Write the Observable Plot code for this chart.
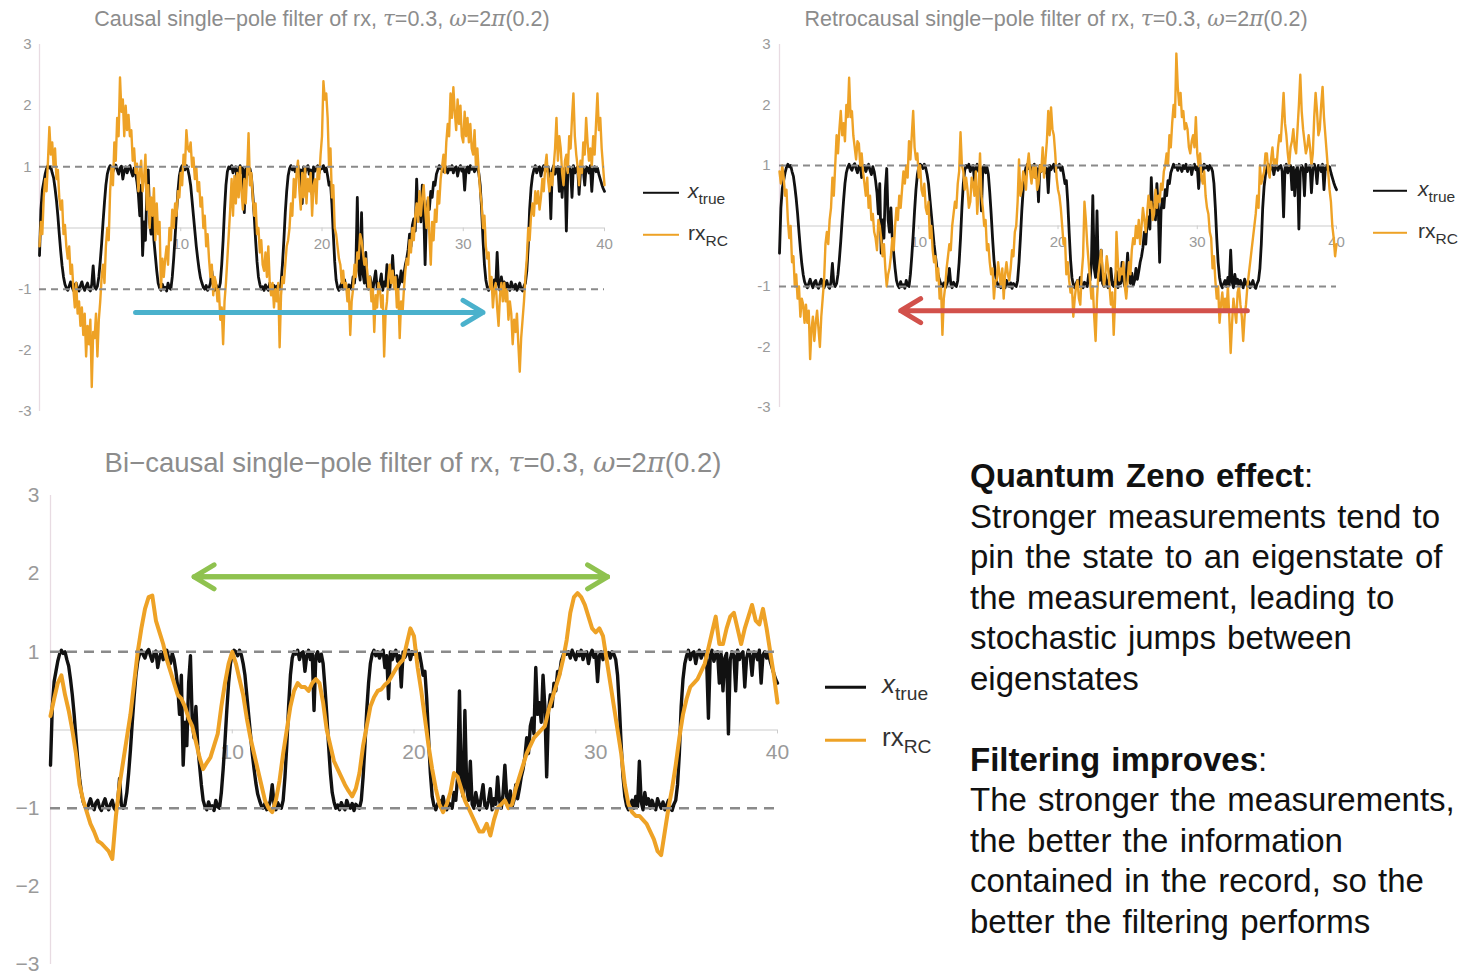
<!DOCTYPE html>
<html>
<head>
<meta charset="utf-8">
<script src="https://cdn.jsdelivr.net/npm/d3@7"></script>
<script src="https://cdn.jsdelivr.net/npm/@observablehq/plot@0.6"></script>
<style>
  html, body { margin: 0; padding: 0; background: #fff; overflow: hidden; }
  #stage { position: relative; width: 1464px; height: 974px; font-family: "Liberation Sans", Arial, sans-serif; }
  .plot { position: absolute; }
  .title { position: absolute; color: #8c8c8c; white-space: nowrap; transform: translateX(-50%); line-height: 1; }
  .title i { font-family: "DejaVu Serif", serif; font-style: italic; }
  .leg { position: absolute; display: flex; align-items: center; white-space: nowrap; color: #333; transform: translateY(-50%); line-height: 1; }
  .leg .sw { display: inline-block; }
  .leg sub { font-size: 0.74em; vertical-align: -0.38em; }
  .note { position: absolute; left: 970px; font-size: 33px; line-height: 40px; height: 40px; color: #111; white-space: pre; word-spacing: 2px; }
  .note .b { font-weight: bold; }
</style>
</head>
<body>
<div id="stage"></div>
<script>
// Sampled trajectories, t = 0 … 40
const dtTrue = 0.1;       // sample spacing of x_true and of the single-sided filters
const dtBi = 0.2;         // sample spacing of the bi-causal filter output

// true telegraph-like state x_true (shared by all three panels)
const xTrue = [
  -0.45, 0.3, 0.62, 0.75, 0.88, 0.97, 1.02, 0.98, 1.0, 0.9,
  0.82, 0.65, 0.45, 0.2, -0.1, -0.38, -0.62, -0.8, -0.92, -0.98,
  -1.02, -0.95, -0.88, -0.96, -1.02, -0.93, -0.9, -0.99, -1.03, -0.94,
  -0.88, -0.97, -1.02, -0.95, -0.9, -1.0, -1.03, -0.92, -0.62, -0.96,
  -1.0, -0.95, -0.8, -0.55, -0.25, 0.1, 0.42, 0.7, 0.88, 0.97,
  1.02, 0.96, 0.92, 1.0, 1.03, 0.95, 0.88, 0.98, 1.01, 0.8,
  0.93, 1.0, 0.9, 0.97, 1.02, 0.92, 0.85, 0.98, 0.9, 0.75,
  0.55, 0.2, 0.7, -0.45, 0.1, -0.2, 0.6, 0.95, 0.1, -0.1,
  0.3, -0.2, -0.45, -0.7, -0.9, -0.98, -1.02, -0.92, -1.0, -0.97,
  -1.03, -0.9, -0.98, -1.0, -0.8, -0.5, -0.15, 0.25, 0.6, 0.85,
  0.97, 1.02, 1.0, 0.95, 1.02, 0.96, 0.85, 0.7, 0.45, 0.2,
  -0.05, -0.3, -0.5, -0.68, -0.82, -0.9, -0.97, -1.0, -0.94, -1.02,
  -0.98, -0.9, -0.7, -0.95, -1.02, -0.93, -0.98, -1.0, -0.9, -0.6,
  -0.2, 0.3, 0.7, 0.92, 1.0, 0.97, 1.02, 0.9, 0.98, 1.0,
  0.75, 0.95, 1.02, 0.9, 0.98, 0.25, 0.95, 1.0, 0.88, 0.97,
  0.85, 0.55, 0.2, -0.2, -0.55, -0.8, -0.92, -1.0, -0.96, -1.02,
  -0.93, -0.98, -1.02, -0.9, -0.97, -1.0, -0.94, -1.03, -0.95, -0.98,
  -1.0, -0.9, -0.6, -0.2, 0.25, 0.6, 0.85, 0.97, 1.02, 0.95,
  1.0, 0.92, 0.98, 1.02, 0.8, 0.95, 0.4, 1.0, 0.9, 0.97,
  1.02, 0.88, 0.95, 0.55, 1.0, 0.93, 0.98, 1.02, 0.9, 1.0,
  0.97, 1.02, 0.92, 0.98, 0.85, 0.7, 0.75, 0.4, -0.1, -0.55,
  -0.85, -0.97, -1.02, -0.95, -0.9, -1.0, -0.85, -0.98, -1.02, -0.93,
  -0.95, -1.0, -0.8, -0.9, -0.6, 0.5, -0.7, -0.85, 0.25, -0.75,
  -0.9, -0.4, -0.95, -1.0, -0.8, -0.92, -1.02, -0.85, -0.7, -0.97,
  -1.0, -0.9, -0.75, -1.02, -0.88, -0.95, -0.6, -0.9, -1.0, -0.82,
  -0.45, -0.85, -0.95, -0.78, -0.98, -0.9, -0.7, -0.88, -0.75, -0.6,
  -0.5, -0.35, -0.1, -0.3, 0.05, 0.15, -0.05, 0.8, 0.2, 0.35,
  0.1, 0.7, 0.3, -0.6, 0.25, 0.45, 0.3, 0.6, 0.5, 0.75,
  0.7, 0.88, 0.95, 1.02, 0.97, 1.0, 0.92, 1.02, 0.96, 0.9,
  1.0, 0.95, 1.02, 0.9, 0.98, 1.0, 0.85, 0.97, 1.02, 0.93,
  0.98, 0.62, 0.95, 1.0, 0.9, 1.02, 0.96, 0.99, 0.92, 1.0,
  0.97, 0.9, 0.7, 0.3, -0.2, -0.6, -0.85, -0.97, -1.02, -0.95,
  -0.9, -1.0, -0.85, -0.98, -0.4, -0.92, -1.02, -0.8, -0.95, -0.88,
  -1.0, -0.9, -0.97, -1.02, -0.88, -0.95, -1.0, -0.92, -1.02, -0.96,
  -0.9, -1.0, -1.03, -0.95, -0.9, -0.7, -0.3, 0.3, 0.65, 0.85,
  0.95, 1.02, 0.9, 0.98, 1.0, 0.85, 0.97, 1.02, 0.92, 0.98,
  1.0, 0.9, 0.15, 0.95, 1.02, 0.88, 0.96, 1.0, 0.6, 0.97,
  0.5, 0.92, 0.98, -0.05, 0.9, 1.0, 0.95, 0.5, 1.02, 0.9,
  0.97, 1.0, 0.55, 0.92, 1.02, 0.95, 0.7, 1.0, 0.98, 0.9,
  1.02, 0.6, 0.96, 1.0, 0.92, 0.98, 0.88, 0.8, 0.72, 0.65,
  0.6
];

// causal single-pole filter of the record
const rxCausal = [
  -0.3, 0.1, -0.1, 0.5, 0.8, 0.6, 1.1, 1.65, 1.2, 1.4,
  1.0, 1.3, 0.8, 0.95, 0.5, 0.3, 0.45, -0.1, 0.05, -0.3,
  -0.5, -0.3, -0.75, -0.6, -1.0, -1.3, -0.9, -1.4, -1.2, -1.6,
  -1.3, -1.75, -1.4, -2.1, -1.6, -1.9, -1.5, -2.6, -1.7, -1.8,
  -1.4, -2.1, -1.5, -1.2, -0.8, -0.6, -0.9, -0.3, 0.0, -0.2,
  0.6, 1.0, 0.7, 1.4, 1.1, 1.8, 1.5, 2.46, 1.9, 2.1,
  1.5, 2.0, 1.6, 1.85, 1.5, 1.6, 1.1, 1.3, 0.9, 1.05,
  0.6, 0.9, 1.1, 0.6, 0.8, 1.2, 0.3, 0.7, 0.0, 0.5,
  0.2, 0.65, -0.2, 0.4, -0.1, 0.1, -1.0, -0.5, -0.8, -0.5,
  -0.3, -0.6, 0.0, -0.2, 0.3, 0.0, 0.4, 0.2, 0.6, 0.5,
  0.9, 0.7, 1.2, 1.0, 1.6, 1.3, 1.25, 1.4, 1.0, 1.15,
  0.8, 1.0, 0.6, 0.75, 0.35, 0.5, 0.0, 0.2, -0.3, -0.1,
  -0.5, -0.8, -0.6, -1.1, -0.8, -0.9, -1.2, -1.0, -1.5, -1.3,
  -1.9, -1.2, -0.9, -0.5, -0.1, 0.3, 0.8, 0.2, 0.85, 0.4,
  0.9, 0.5, 1.0, 0.6, 0.3, 0.8, 0.4, 0.9, 1.55, 0.7,
  0.9, 0.5, 0.2, 0.4, -0.1, 0.0, -0.4, -0.2, -0.6, -0.7,
  -0.4, -0.8, -0.3, -0.9, -1.1, -0.9, -1.3, -1.0, -1.2, -0.9,
  -1.95, -1.1, -0.8, -0.9, -0.6, -0.3, -0.2, 0.0, 0.4, 0.2,
  0.8, 0.5, 0.9, 1.1, 0.6, 0.3, 0.9, 0.5, 1.0, 0.4,
  0.8, 0.6, 0.9, 0.2, 0.7, 0.8, 0.4, 1.0, 0.8, 1.2,
  1.5, 2.4, 2.1, 2.2, 1.8, 1.0, 1.3, 0.5, 0.7, 0.0,
  -0.1, -0.3, -0.5, -0.6, -0.9, -0.7, -1.0, -0.9, -1.2, -1.0,
  -1.75, -1.2, -1.0, -0.6, -0.8, -0.4, -0.5, -0.1, -0.2, -0.4,
  -0.6, -0.5, -0.7, -1.0, -0.8, -1.2, -1.0, -1.7, -1.1, -1.3,
  -0.9, -1.0, -1.3, -1.1, -2.1, -1.4, -1.2, -0.8, -0.6, -0.9,
  -0.7, -1.0, -0.8, -1.3, -1.0, -1.8, -1.2, -1.4, -1.0, -0.7,
  -0.5, -0.6, -0.2, -0.4, 0.0, -0.2, 0.2, 0.4, 0.1, 0.6,
  0.2, 0.5, 0.7, 0.3, 0.0, 0.5, -0.1, -0.6, 0.1, -0.2,
  0.3, 0.1, 0.6, 0.4, 0.8, 1.0, 1.2, 0.9, 1.4, 1.7,
  1.5, 2.2, 1.8, 2.3, 1.9, 1.6, 2.1, 1.7, 2.0, 1.5,
  1.4, 1.9, 1.5, 1.8, 1.4, 1.7, 1.3, 1.2, 1.6, 1.0,
  1.3, 0.9, 0.6, 0.4, 0.0, 0.2, -0.3, -0.5, -0.4, -1.0,
  -0.8, -1.3, -1.0, -0.9, -1.3, -1.6, -1.1, -0.9, -1.2, -0.9,
  -1.2, -1.0, -1.5, -1.2, -1.4, -1.9, -1.5, -1.7, -1.4, -1.9,
  -2.35, -1.8, -1.5, -1.2, -0.8, -0.5, 0.0, -0.2, 0.2, 0.4,
  0.2, 0.6, 0.4, 0.6, 0.3, 0.5, 0.8, 0.6, 1.0, 1.2,
  0.8, 0.6, 0.9, 0.7, 1.0, 1.3, 1.8, 1.1, 1.5, 1.3,
  0.9, 0.7, 1.1, 1.2, 0.9, 1.5, 1.3, 1.8, 2.2, 1.5,
  1.2, 1.0, 0.7, 1.1, 0.9, 1.4, 1.2, 1.8, 1.4, 1.1,
  1.3, 1.0, 1.5, 1.2, 1.7, 2.2, 1.6, 1.8, 1.3, 1.0,
  0.7
];

// retrocausal single-pole filter of the record
const rxRetro = [
  0.9, 0.7, 1.0, 0.8, 0.5, 0.6, 0.1, -0.2, 0.0, -0.6,
  -0.5, -1.0, -0.8, -1.2, -1.0, -1.5, -1.2, -1.3, -1.6, -1.3,
  -1.6, -1.4, -2.2, -1.7, -1.5, -1.9, -1.6, -1.4, -1.7, -2.0,
  -1.5, -1.2, -0.9, -0.3, -0.1, -0.3, 0.1, 0.3, 0.8, 0.5,
  1.0, 1.5, 1.2, 1.6, 1.9, 1.5, 1.7, 1.4, 2.0, 1.8,
  2.45, 1.8, 1.9, 1.5, 1.3, 1.1, 1.4, 1.36, 1.0, 1.2,
  0.9, 0.7, 0.5, 0.8, 0.3, 0.5, 0.1, 0.2, -0.1, -0.2,
  -0.4, 0.1, 0.0, -0.2, -0.5, -0.3, -0.7, -1.0, -0.8, -0.7,
  -0.5, -0.2, -0.4, 0.0, 0.3, 0.1, 0.5, 0.3, 0.6, 0.9,
  0.7, 1.0, 0.8, 1.4, 1.1, 1.5, 1.9, 1.3, 1.1, 1.2,
  0.8, 1.0, 0.6, 0.5, 0.7, 0.3, 0.2, 0.4, -0.2, 0.0,
  -0.4, -0.6, -0.5, -0.9, -0.7, -1.2, -1.0, -1.8, -1.2, -1.0,
  -0.7, -0.5, -0.3, -0.4, 0.0, 0.2, 0.4, 0.3, 0.7, 0.9,
  1.55, 1.0, 0.9, 0.6, 0.8, 0.6, 0.3, 0.4, 0.8, 0.7,
  0.5, 0.9, 0.2, 0.6, 1.2, 0.5, 0.3, 0.0, 0.1, -0.4,
  -0.3, -0.6, -0.8, -0.7, -1.2, -0.9, -0.9, -0.6, -0.8, -1.0,
  -0.7, -1.2, -0.8, -0.6, -0.8, -0.9, -0.7, -0.4, -0.5, -0.1,
  0.0, 0.4, 1.1, 0.5, 0.6, 0.9, 0.8, 0.6, 1.0, 1.2,
  0.9, 0.7, 1.0, 0.8, 1.0, 0.6, 0.7, 1.0, 0.9, 1.3,
  0.8, 1.1, 1.4, 1.9, 1.5, 1.96, 1.6, 1.5, 1.2, 0.8,
  0.6, 0.5, 0.3, 0.0, -0.3, -0.2, -0.8, -0.6, -0.9, -1.1,
  -1.0, -1.5, -1.2, -1.0, -0.9, -1.2, -1.3, -0.8, -0.5, 0.4,
  0.1, -0.3, -0.6, -0.9, -1.2, -1.0, -1.5, -1.9, -1.2, -0.8,
  -0.6, -0.4, -0.7, -1.0, -0.8, -0.5, -0.7, -1.0, -1.3, -1.1,
  -1.8, -1.2, -0.1, -0.6, -0.9, -0.7, -0.8, -0.6, -1.0, -1.2,
  -0.9, -0.6, -0.8, -0.4, -0.2, -0.3, 0.0, -0.2, 0.1, -0.3,
  0.0, 0.3, 0.1, -0.1, 0.2, 0.5, 0.3, 0.4, 0.1, 0.2,
  0.6, 0.3, 0.5, 0.4, 0.7, 0.6, 0.9, 1.0, 1.2, 1.0,
  1.5, 1.3, 1.7, 2.0, 1.8, 2.85, 2.3, 2.0, 2.2, 1.8,
  1.9, 1.6, 1.7, 1.6, 1.3, 1.2, 1.4, 1.5, 1.3, 1.8,
  1.2, 1.0, 1.2, 0.8, 0.7, 0.9, 0.5, 0.3, 0.2, -0.1,
  -0.2, -0.7, -0.5, -0.9, -1.2, -1.0, -1.6, -1.3, -1.1, -1.4,
  -1.2, -1.4, -1.0, -1.5, -2.1, -1.6, -1.2, -1.4, -1.6, -1.1,
  -1.0, -1.3, -1.5, -1.9, -1.5, -1.3, -1.0, -0.8, -0.6, -0.4,
  -0.2, 0.0, 0.2, 0.5, 0.3, 1.0, 0.7, 0.8, 0.9, 1.2,
  1.2, 0.9, 0.8, 1.1, 1.3, 1.0, 1.1, 1.0, 1.3, 1.5,
  1.4, 1.8, 2.2, 1.7, 1.5, 1.2, 1.0, 1.3, 1.4, 1.6,
  1.3, 1.2, 1.6, 2.0, 2.5, 1.9, 1.6, 1.4, 1.2, 1.3,
  1.5, 1.3, 1.0, 1.2, 1.8, 2.2, 1.9, 1.5, 1.6, 2.0,
  2.3, 1.8, 1.5, 1.2, 0.9, 0.6, 0.4, 0.0, -0.2, -0.5,
  -0.3
];

// bi-causal (forward-backward) single-pole filter of the record
const rxBicausal = [
  0.18, 0.4, 0.6, 0.7, 0.45, 0.25, 0.0, -0.3, -0.7, -0.9,
  -1.05, -1.2, -1.3, -1.42, -1.45, -1.5, -1.55, -1.65, -1.1, -0.7,
  -0.4, -0.1, 0.2, 0.6, 1.0, 1.3, 1.55, 1.7, 1.72, 1.4,
  1.25, 1.1, 0.9, 0.75, 0.6, 0.45, 0.4, 0.3, 0.15, 0.05,
  -0.15, -0.35, -0.5, -0.42, -0.35, -0.2, -0.05, 0.3, 0.6, 0.85,
  1.0, 0.85, 0.65, 0.45, 0.15, -0.1, -0.3, -0.5, -0.7, -0.9,
  -1.0, -1.05, -0.9, -0.65, -0.3, 0.0, 0.3, 0.5, 0.6, 0.55,
  0.55, 0.5, 0.6, 0.65, 0.6, 0.35, 0.0, -0.2, -0.4, -0.5,
  -0.6, -0.7, -0.78, -0.85, -0.75, -0.55, -0.2, 0.05, 0.3, 0.42,
  0.5, 0.52, 0.58, 0.62, 0.7, 0.78, 0.85, 0.9, 1.1, 1.3,
  1.2, 0.8, 0.5, 0.15, -0.2, -0.5, -0.75, -0.95, -1.05, -0.95,
  -0.8, -0.55, -0.6, -0.75, -0.9, -1.0, -1.1, -1.2, -1.3, -1.3,
  -1.2, -1.35, -1.15, -1.0, -0.95, -0.9, -1.0, -0.95, -0.75, -0.6,
  -0.45, -0.3, -0.2, -0.1, -0.05, 0.0, 0.05, 0.25, 0.4, 0.55,
  0.7, 0.9, 1.15, 1.5, 1.7, 1.75, 1.7, 1.6, 1.45, 1.3,
  1.25, 1.3, 1.2, 0.9, 0.6, 0.3, 0.0, -0.3, -0.7, -0.95,
  -1.05, -1.1, -1.1, -1.15, -1.2, -1.3, -1.4, -1.55, -1.6, -1.3,
  -1.0, -0.75, -0.45, -0.1, 0.2, 0.4, 0.55, 0.6, 0.65, 0.75,
  0.85, 1.05, 1.25, 1.45, 1.1, 1.1, 1.3, 1.45, 1.5, 1.3,
  1.1, 1.3, 1.45, 1.6, 1.4, 1.35, 1.55, 1.3, 1.0, 0.7,
  0.35
];

// axis ticks and reference levels (eigenvalues ±1)
const xTicks = [10, 20, 30, 40];
const yTicks = [-3, -2, -1, 1, 2, 3];
const eigenLevels = [-1, 1];

// annotation arrows, in data units
const causalArrow = [{x1: 6.8, x2: 31.4, y: -1.38}];
const retroArrow = [{x1: 33.6, x2: 8.7, y: -1.4}];
const biArrow = [{x1: 7.9, x2: 30.65, y: 1.96}, {x1: 30.65, x2: 7.9, y: 1.96}];

const FONT = '"Liberation Sans", Arial, sans-serif';
const BLACK = "#111111";
const ORANGE = "#eea226";

const stage = document.getElementById("stage");

function panel(cfg) {
  const minus = cfg.minus;
  const fmt = d => (d < 0 ? minus + Math.abs(d) : String(d));
  const svg = Plot.plot({
    width: cfg.width,
    height: cfg.height,
    marginLeft: cfg.ml, marginRight: cfg.mr, marginTop: cfg.mt, marginBottom: cfg.mb,
    x: {domain: [0, 40], axis: null},
    y: {domain: [-3, 3], axis: null},
    style: {fontFamily: FONT, background: "transparent", overflow: "visible"},
    marks: [
      Plot.ruleX([0], {y1: -3, y2: 3, stroke: "#e8dbe2", strokeWidth: 1.3}),
      Plot.ruleY([0], {stroke: "#dddddd", strokeWidth: 1.3}),
      Plot.axisY({ticks: yTicks, label: null, tickSize: 0, tickPadding: cfg.pad, fill: "#9a9a9a", fontSize: cfg.fs, tickFormat: fmt}),
      Plot.ruleX(xTicks, {x: d => d, y1: 0, y2: -cfg.tickLen, stroke: "#cccccc"}),
      Plot.text(xTicks, {x: d => d, y: 0, dy: cfg.labelDy, text: d => String(d), fill: "#9a9a9a", fontSize: cfg.fs}),
      Plot.line(xTrue, {x: (d, i) => i * dtTrue, y: d => d, stroke: BLACK, strokeWidth: cfg.blackW, strokeLinejoin: "round"}),
      Plot.line(cfg.rx, {x: (d, i) => i * cfg.rxStep, y: d => d, stroke: ORANGE, strokeWidth: cfg.orangeW, strokeLinejoin: "round"}),
      Plot.ruleY(eigenLevels, {stroke: "#8a8a8a", strokeWidth: cfg.dashW, strokeDasharray: cfg.dash}),
      Plot.arrow(cfg.arrow, {x1: "x1", x2: "x2", y1: "y", y2: "y", stroke: cfg.arrowColor, strokeWidth: cfg.arrowW, headLength: cfg.headLen, headAngle: 62, strokeLinecap: "round"})
    ]
  });
  svg.classList.add("plot");
  svg.style.left = cfg.left + "px";
  svg.style.top = cfg.top + "px";
  stage.appendChild(svg);
}

panel({left: 0, top: 30, width: 625, height: 400, ml: 39, mr: 21, mt: 14, mb: 19,
  rx: rxCausal, rxStep: dtTrue, fs: 15, pad: 8, labelDy: 16, tickLen: 0.06, minus: "-",
  blackW: 2.8, orangeW: 2.4, dashW: 2, dash: "7,5",
  arrow: causalArrow, arrowColor: "#4ab1cc", arrowW: 5, headLen: 7});

panel({left: 730, top: 30, width: 630, height: 395, ml: 49, mr: 24, mt: 14, mb: 18,
  rx: rxRetro, rxStep: dtTrue, fs: 15, pad: 9, labelDy: 16, tickLen: 0.06, minus: "-",
  blackW: 2.8, orangeW: 2.4, dashW: 2, dash: "7,5",
  arrow: retroArrow, arrowColor: "#d2514b", arrowW: 5, headLen: 7});

panel({left: 0, top: 480, width: 800, height: 494, ml: 50, mr: 23, mt: 15, mb: 10,
  rx: rxBicausal, rxStep: dtBi, fs: 21, pad: 11, labelDy: 22, tickLen: 0.05, minus: "\u2212",
  blackW: 3.4, orangeW: 4, dashW: 2.5, dash: "10,7",
  arrow: biArrow, arrowColor: "#8fc24f", arrowW: 5, headLen: 7});

// titles
function title(html, cx, cy, size) {
  const d = document.createElement("div");
  d.className = "title";
  d.style.left = cx + "px";
  d.style.top = (cy - size / 2) + "px";
  d.style.fontSize = size + "px";
  d.innerHTML = html;
  stage.appendChild(d);
}
const params = ", <i>τ</i>=0.3, <i>ω</i>=2<i>π</i>(0.2)";
title("Causal single\u2212pole filter of rx" + params, 322, 19, 21.5);
title("Retrocausal single\u2212pole filter of rx" + params, 1056, 19, 21.5);
title("Bi\u2212causal single\u2212pole filter of rx" + params, 413, 463, 27.5);

// legends
function legend(x, yTop, yBot, lineLen, textX, size, lw) {
  const rows = [
    {y: yTop, color: BLACK, label: "<i>x</i><sub>true</sub>"},
    {y: yBot, color: ORANGE, label: "rx<sub>RC</sub>"}
  ];
  for (const r of rows) {
    const row = document.createElement("div");
    row.className = "leg";
    row.style.left = x + "px";
    row.style.top = r.y + "px";
    row.style.fontSize = size + "px";
    row.innerHTML = `<span class="sw" style="width:${lineLen}px;height:${lw}px;background:${r.color}"></span>` +
      `<span style="margin-left:${textX - x - lineLen}px">${r.label}</span>`;
    stage.appendChild(row);
  }
}
legend(643, 193, 235, 36, 688, 21, 2.5);
legend(1373, 191, 233, 34, 1418, 21, 2.5);
legend(825, 687, 740, 41, 882, 26, 3);

// explanatory text, one line per row
const noteLines = [
  ["Quantum Zeno effect", ":"],
  ["", "Stronger measurements tend to"],
  ["", "pin the state to an eigenstate of"],
  ["", "the measurement, leading to"],
  ["", "stochastic jumps between"],
  ["", "eigenstates"],
  null,
  ["Filtering improves", ":"],
  ["", "The stronger the measurements,"],
  ["", "the better the information"],
  ["", "contained in the record, so the"],
  ["", "better the filtering performs"]
];
noteLines.forEach((ln, i) => {
  if (!ln) return;
  const d = document.createElement("div");
  d.className = "note";
  d.style.top = (456 + i * 40.5) + "px";
  d.innerHTML = (ln[0] ? `<span class="b">${ln[0]}</span>` : "") + `<span>${ln[1]}</span>`;
  stage.appendChild(d);
});
</script>
</body>
</html>
